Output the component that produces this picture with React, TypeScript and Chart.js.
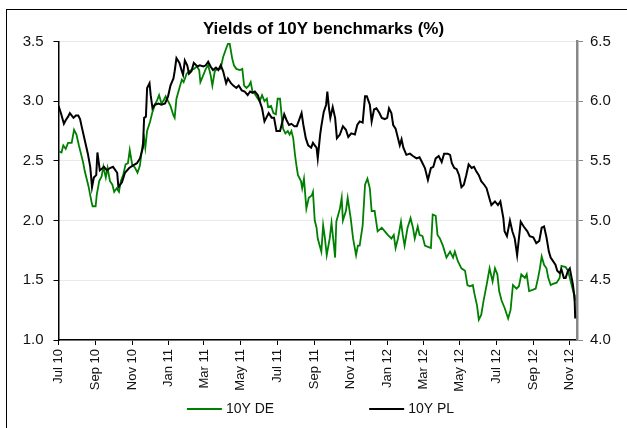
import { useEffect, useRef } from "react";
import { Chart, registerables } from "chart.js";

Chart.register(...registerables);

const TITLE = "Yields of 10Y benchmarks (%)";

// x axis: days since 1 Jul 2010
const TICK_DAYS = [0, 62, 123, 184, 243, 304, 365, 427, 488, 549, 609, 670, 731, 793, 854];
const TICK_LABELS = [
  "Jul 10", "Sep 10", "Nov 10", "Jan 11", "Mar 11", "May 11", "Jul 11", "Sep 11",
  "Nov 11", "Jan 12", "Mar 12", "May 12", "Jul 12", "Sep 12", "Nov 12",
];
const X_MAX = 866;

const LEFT_TICKS = { min: 1.0, max: 3.5, step: 0.5 };
const RIGHT_TICKS = { min: 4.0, max: 6.5, step: 0.5 };

const DE_LABEL = "10Y DE";
const PL_LABEL = "10Y PL";

const DE_DAYS = [
  0, 5, 8, 12, 16, 22, 26, 30, 34, 38,
  41, 44, 50, 55, 57, 62, 64, 68, 72, 75,
  79, 82, 86, 90, 93, 97, 101, 104, 108, 112,
  116, 119, 123, 128, 132, 136, 140, 143, 145, 148,
  153, 157, 161, 165, 168, 172, 176, 179, 183, 187,
  192, 194, 197, 202, 206, 209, 214, 218, 222, 226,
  231, 235, 237, 242, 246, 250, 254, 257, 261, 265,
  270, 272, 275, 280, 283, 286, 290, 293, 297, 303,
  307, 310, 314, 318, 321, 324, 328, 333, 336, 340,
  344, 348, 350, 355, 359, 363, 366, 370, 373, 375,
  379, 383, 386, 389, 392, 395, 398, 400, 405, 407,
  410, 414, 418, 423, 425, 428, 431, 433, 439, 442,
  445, 448, 453, 456, 460, 462, 464, 470, 473, 475,
  480, 483, 488, 492, 497, 500, 503, 508, 512, 516,
  520, 523, 528, 533, 540, 545, 550, 556, 560, 563,
  567, 572, 575, 578, 583, 588, 592, 595, 600, 603,
  608, 612, 617, 622, 625, 630, 633, 637, 642, 648,
  654, 659, 662, 667, 673, 679, 683, 687, 692, 695,
  699, 702, 706, 710, 715, 720, 725, 729, 733, 736,
  740, 745, 751, 755, 759, 765, 769, 773, 779, 782,
  786, 792, 797, 801, 804, 807, 811, 815, 818, 822,
  826, 832, 837, 840, 847, 851, 854, 857, 861, 862,
];
const DE_YIELD = [
  2.58, 2.57, 2.63, 2.60, 2.65, 2.65, 2.76, 2.72, 2.63, 2.55,
  2.49, 2.41, 2.29, 2.16, 2.12, 2.12, 2.22, 2.33, 2.37, 2.45,
  2.36, 2.44, 2.33, 2.30, 2.24, 2.27, 2.24, 2.33, 2.38, 2.47,
  2.48, 2.59, 2.47, 2.44, 2.40, 2.46, 2.62, 2.69, 2.61, 2.75,
  2.83, 2.91, 2.97, 3.01, 3.05, 2.98, 3.01, 3.04, 3.00, 2.96,
  2.88, 2.86, 3.02, 3.11, 3.18, 3.16, 3.23, 3.25, 3.26, 3.27,
  3.29, 3.26, 3.16, 3.22, 3.27, 3.30, 3.22, 3.13, 3.25, 3.27,
  3.27, 3.30, 3.37, 3.44, 3.48, 3.48, 3.36, 3.30, 3.27, 3.26,
  3.27, 3.13, 3.11, 3.13, 3.16, 3.08, 3.06, 3.02, 3.00, 3.05,
  3.00, 3.02, 2.95, 2.96, 2.90, 2.89, 3.02, 3.02, 2.86, 2.77,
  2.73, 2.75, 2.72, 2.75, 2.69, 2.55, 2.44, 2.38, 2.33, 2.27,
  2.35, 2.10, 2.19, 2.21, 2.24, 2.00, 1.94, 1.85, 1.74, 1.96,
  1.85, 1.71, 1.85, 1.98, 1.79, 1.69, 1.99, 2.10, 2.19, 2.00,
  2.08, 2.19, 2.02, 1.85, 1.71, 1.79, 1.79, 1.96, 2.30, 2.35,
  2.27, 2.08, 2.08, 1.91, 1.94, 1.91, 1.88, 1.85, 1.88, 1.77,
  1.85, 1.99, 1.88, 1.79, 1.94, 2.02, 1.94, 1.85, 1.95, 1.88,
  1.87, 1.79, 1.78, 1.77, 2.05, 2.04, 1.88, 1.85, 1.79, 1.69,
  1.74, 1.69, 1.74, 1.66, 1.60, 1.58, 1.46, 1.45, 1.46, 1.38,
  1.29, 1.17, 1.21, 1.33, 1.46, 1.60, 1.49, 1.60, 1.55, 1.41,
  1.33, 1.27, 1.18, 1.25, 1.46, 1.43, 1.45, 1.55, 1.52, 1.55,
  1.41, 1.42, 1.43, 1.52, 1.60, 1.70, 1.63, 1.60, 1.52, 1.46,
  1.47, 1.48, 1.52, 1.62, 1.61, 1.58, 1.52, 1.46, 1.38, 1.33,
];

const PL_DAYS = [
  0, 4, 9, 12, 16, 19, 25, 29, 33, 36,
  39, 44, 49, 53, 56, 59, 63, 65, 69, 76,
  81, 86, 91, 98, 100, 106, 111, 118, 124, 131,
  136, 141, 143, 146, 148, 152, 154, 157, 161, 167,
  172, 178, 183, 187, 192, 194, 197, 202, 206, 208,
  211, 215, 218, 222, 226, 232, 236, 242, 246, 250,
  254, 258, 263, 267, 271, 275, 280, 283, 288, 292,
  297, 301, 306, 311, 316, 320, 324, 328, 333, 336,
  340, 344, 348, 351, 356, 360, 364, 370, 374, 377,
  381, 385, 389, 394, 398, 401, 406, 409, 413, 417,
  422, 425, 428, 431, 433, 437, 439, 443, 447, 449,
  452, 454, 458, 462, 465, 470, 475, 480, 484, 489,
  495, 499, 503, 508, 512, 515, 520, 523, 527, 531,
  536, 540, 545, 549, 552, 556, 559, 563, 567, 570,
  573, 576, 581, 587, 592, 598, 603, 607, 612, 617,
  622, 626, 630, 635, 640, 644, 650, 654, 657, 661,
  665, 669, 673, 677, 681, 685, 690, 694, 698, 702,
  706, 711, 715, 720, 723, 729, 734, 738, 743, 745,
  749, 754, 758, 762, 766, 769, 772, 777, 783, 787,
  793, 798, 803, 807, 811, 815, 819, 822, 826, 830,
  833, 837, 840, 844, 847, 851, 854, 857, 859, 862,
  863,
];
const PL_YIELD = [
  5.96, 5.90, 5.81, 5.84, 5.87, 5.90, 5.86, 5.88, 5.88, 5.85,
  5.78, 5.67, 5.56, 5.45, 5.28, 5.36, 5.38, 5.57, 5.42, 5.45,
  5.42, 5.44, 5.45, 5.40, 5.28, 5.32, 5.40, 5.44, 5.46, 5.48,
  5.52, 5.61, 5.86, 5.87, 6.11, 6.15, 6.05, 5.94, 5.97, 5.98,
  5.97, 5.98, 6.04, 6.13, 6.19, 6.25, 6.36, 6.32, 6.25, 6.22,
  6.34, 6.30, 6.23, 6.25, 6.32, 6.29, 6.30, 6.29, 6.30, 6.33,
  6.29, 6.26, 6.28, 6.26, 6.30, 6.25, 6.15, 6.19, 6.15, 6.13,
  6.11, 6.13, 6.09, 6.08, 6.05, 6.08, 6.07, 6.08, 6.05, 6.00,
  5.94, 5.83, 5.87, 5.90, 5.86, 5.86, 5.75, 5.75, 5.83, 5.89,
  5.84, 5.80, 5.81, 5.79, 5.79, 5.83, 5.90, 5.80, 5.69, 5.63,
  5.61, 5.65, 5.63, 5.61, 5.52, 5.72, 5.79, 5.91, 5.97, 6.08,
  5.93, 5.86, 5.95, 5.86, 5.69, 5.72, 5.79, 5.76, 5.70, 5.73,
  5.72, 5.80, 5.83, 5.82, 6.04, 6.04, 5.97, 5.83, 5.93, 5.94,
  5.90, 5.86, 5.85, 5.86, 5.94, 5.90, 5.80, 5.77, 5.69, 5.63,
  5.68, 5.61, 5.55, 5.56, 5.54, 5.52, 5.53, 5.49, 5.44, 5.34,
  5.44, 5.45, 5.52, 5.54, 5.49, 5.56, 5.56, 5.55, 5.48, 5.44,
  5.43, 5.38, 5.28, 5.30, 5.38, 5.47, 5.44, 5.45, 5.41, 5.38,
  5.33, 5.30, 5.27, 5.18, 5.13, 5.16, 5.13, 5.16, 5.02, 4.91,
  4.87, 5.00, 4.91, 4.85, 4.71, 4.85, 4.99, 4.95, 4.91, 4.87,
  4.86, 4.81, 4.83, 4.94, 4.95, 4.86, 4.74, 4.69, 4.66, 4.63,
  4.58, 4.56, 4.59, 4.52, 4.52, 4.58, 4.60, 4.52, 4.47, 4.35,
  4.18,
];

const DE_COLOR = "#008000";
const PL_COLOR = "#000000";
const FONT = "'Liberation Sans', Arial, Helvetica, sans-serif";

export default function App() {
  const ref = useRef<HTMLCanvasElement>(null);

  useEffect(() => {
    if (!ref.current) return;
    Chart.defaults.font.family = FONT;
    Chart.defaults.color = "#000";

    const framePlugin = {
      id: "frame",
      beforeDraw(chart: any) {
        const ctx = chart.ctx;
        ctx.save();
        ctx.fillStyle = "#ffffff";
        ctx.fillRect(0, 0, chart.width, chart.height);
        ctx.strokeStyle = "#000";
        ctx.lineWidth = 1;
        ctx.strokeRect(6.5, 9.5, chart.width + 50, chart.height + 50);
        ctx.restore();
      },
    };

    const legendPlugin = {
      id: "lineLegend",
      afterDraw(chart: any) {
        const ctx = chart.ctx;
        const sets = chart.data.datasets;
        ctx.save();
        ctx.font = `14px ${FONT}`;
        ctx.textBaseline = "middle";
        const lineLen = 35;
        const textGap = 4;
        const itemGap = 95;
        const widths = sets.map((d: any) => lineLen + textGap + ctx.measureText(d.label).width);
        const total = widths.reduce((a: number, b: number) => a + b, 0) + itemGap * (sets.length - 1);
        let x = chart.width / 2 + 7 - total / 2;
        const y = chart.chartArea.bottom + 69;
        sets.forEach((d: any, i: number) => {
          ctx.strokeStyle = d.borderColor;
          ctx.lineWidth = 2;
          ctx.beginPath();
          ctx.moveTo(x, y);
          ctx.lineTo(x + lineLen, y);
          ctx.stroke();
          ctx.fillStyle = "#111";
          ctx.fillText(d.label, x + lineLen + textGap, y);
          x += widths[i] + itemGap;
        });
        ctx.restore();
      },
    };

    const chart = new Chart(ref.current, {
      type: "line",
      data: {
        datasets: [
          {
            label: DE_LABEL,
            data: DE_DAYS.map((d, i) => ({ x: d, y: DE_YIELD[i] })),
            borderColor: DE_COLOR,
            backgroundColor: DE_COLOR,
            borderWidth: 1.8,
            pointRadius: 0,
            tension: 0,
            yAxisID: "y",
            order: 1,
          },
          {
            label: PL_LABEL,
            data: PL_DAYS.map((d, i) => ({ x: d, y: PL_YIELD[i] })),
            borderColor: PL_COLOR,
            backgroundColor: PL_COLOR,
            borderWidth: 2,
            pointRadius: 0,
            tension: 0,
            yAxisID: "y1",
            order: 0,
          },
        ],
      },
      options: {
        responsive: false,
        animation: false,
        layout: { padding: { left: 20, right: 0, top: 0, bottom: 0 } },
        plugins: {
          legend: { display: false },
          tooltip: { enabled: false },
          title: {
            display: true,
            text: TITLE,
            color: "#000",
            font: { size: 17, weight: "bold", family: FONT, lineHeight: 1.2 },
            padding: { top: 19, bottom: 2 },
          },
        },
        scales: {
          x: {
            type: "linear",
            min: 0,
            max: X_MAX,
            afterBuildTicks: (scale: any) => {
              scale.ticks = TICK_DAYS.map((v) => ({ value: v }));
            },
            afterFit: (scale: any) => {
              scale.height = 88;
            },
            ticks: {
              autoSkip: false,
              minRotation: 90,
              maxRotation: 90,
              padding: 4,
              color: "#111",
              font: { size: 13, family: FONT },
              callback: (_v: any, i: number) => TICK_LABELS[i] ?? "",
            },
            grid: {
              drawOnChartArea: false,
              drawTicks: true,
              tickLength: 5,
              tickColor: "#000",
              tickWidth: 1,
            },
            border: { display: true, color: "#000", width: 1.5 },
          },
          y: {
            type: "linear",
            position: "left",
            min: LEFT_TICKS.min,
            max: LEFT_TICKS.max,
            afterFit: (scale: any) => {
              scale.width = 38.5;
            },
            ticks: {
              stepSize: LEFT_TICKS.step,
              padding: 10,
              color: "#111",
              font: { size: 15, family: FONT },
              callback: (v: any) => Number(v).toFixed(1),
            },
            grid: {
              color: "#d2d2d2",
              lineWidth: 1,
              drawTicks: true,
              tickLength: 5,
              tickColor: "#000",
            },
            border: { display: true, color: "#000", width: 1.5, dash: [1, 1] },
          },
          y1: {
            type: "linear",
            position: "right",
            min: RIGHT_TICKS.min,
            max: RIGHT_TICKS.max,
            afterFit: (scale: any) => {
              scale.width = 50;
            },
            ticks: {
              stepSize: RIGHT_TICKS.step,
              padding: 7,
              color: "#111",
              font: { size: 15, family: FONT },
              callback: (v: any) => Number(v).toFixed(1),
            },
            grid: {
              drawOnChartArea: false,
              drawTicks: true,
              tickLength: 6,
              tickColor: "#888",
            },
            border: { display: true, color: "#888", width: 2.5 },
          },
        },
      },
      plugins: [framePlugin, legendPlugin],
    } as any);

    return () => chart.destroy();
  }, []);

  return (
    <div style={{ position: "fixed", left: 0, top: 0, width: 627, height: 428, background: "#fff" }}>
      <canvas ref={ref} width={627} height={428} style={{ display: "block" }} />
    </div>
  );
}
